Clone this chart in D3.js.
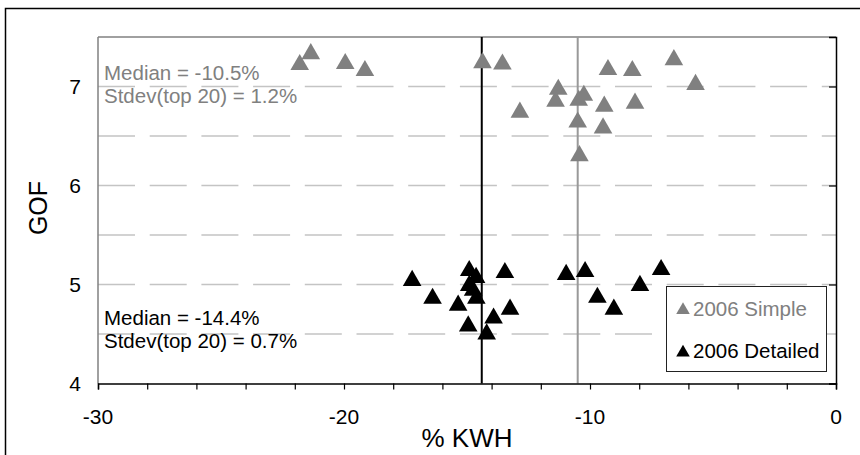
<!DOCTYPE html>
<html>
<head>
<meta charset="utf-8">
<script src="https://cdn.jsdelivr.net/npm/d3@7"></script>
<style>
  html, body { margin: 0; padding: 0; background: #fff; }
  svg { display: block; font-family: Arial, "Liberation Sans", sans-serif; }
</style>
</head>
<body>
<svg id="chart" width="860" height="455"></svg>
<script>
// 2006 Simple model runs: % KWH vs goodness of fit
const simpleKwh = [-21.8, -21.35, -19.95, -19.15, -14.37, -13.56, -9.27, -8.28, -6.59, -5.71,
                   -11.29, -11.4, -12.85, -10.46, -10.25, -9.42, -8.17, -10.5, -9.47, -10.43];
const simpleGof = [7.24, 7.35, 7.25, 7.18, 7.26, 7.245, 7.19, 7.18, 7.29, 7.04,
                   6.99, 6.87, 6.76, 6.88, 6.93, 6.82, 6.85, 6.66, 6.60, 6.32];

// 2006 Detailed model runs
const detailedKwh = [-17.23, -16.4, -14.91, -14.63, -14.91, -14.62, -13.46, -15.36, -13.25, -13.92,
                     -14.95, -14.2, -10.97, -10.2, -9.7, -9.03, -7.97, -7.11, -14.75];
const detailedGof = [5.06, 4.88, 5.16, 5.09, 5.01, 4.88, 5.14, 4.81, 4.77, 4.68,
                     4.60, 4.52, 5.12, 5.15, 4.89, 4.77, 5.01, 5.17, 4.96];

// Summary statistics shown on the chart
const simpleMedian = -10.5;
const simpleStdev = 1.2;
const detailedMedian = -14.4;
const detailedStdev = 0.7;

const xTicksMajor = [-30, -20, -10, 0];
const xTicksMinor = d3.range(-30, 0.001, 2);
const yTicks = [4, 5, 6, 7];
const yGrid = [4.5, 5, 5.5, 6, 6.5, 7];

const seriesNames = ["2006 Simple", "2006 Detailed"];
const seriesColors = ["#808080", "#000000"];

const svg = d3.select("#chart");
const plot = { left: 98, right: 836, top: 37, bottom: 383.5 };

const x = d3.scaleLinear().domain([-30, 0]).range([plot.left, plot.right]);
const y = d3.scaleLinear().domain([4, 7.5]).range([plot.bottom, plot.top]);

// outer frame
svg.append("rect")
  .attr("x", 5.5).attr("y", 8.5).attr("width", 870).attr("height", 470)
  .attr("fill", "none").attr("stroke", "#000").attr("stroke-width", 1.5);

// dashed horizontal gridlines
svg.append("g").selectAll("line").data(yGrid).join("line")
  .attr("x1", plot.left).attr("x2", plot.right)
  .attr("y1", d => y(d)).attr("y2", d => y(d))
  .attr("stroke", "#c4c4c4").attr("stroke-width", 1.5)
  .attr("stroke-dasharray", "37,14.7");

// plot-area border: top and left in gray
svg.append("line").attr("x1", plot.left).attr("x2", plot.right)
  .attr("y1", plot.top).attr("y2", plot.top)
  .attr("stroke", "#808080").attr("stroke-width", 1.5);
svg.append("line").attr("x1", plot.left).attr("x2", plot.left)
  .attr("y1", plot.top).attr("y2", plot.bottom)
  .attr("stroke", "#808080").attr("stroke-width", 1.5);

// median lines
svg.append("line")
  .attr("x1", x(simpleMedian)).attr("x2", x(simpleMedian))
  .attr("y1", plot.top).attr("y2", plot.bottom)
  .attr("stroke", "#999").attr("stroke-width", 2);
svg.append("line")
  .attr("x1", x(detailedMedian)).attr("x2", x(detailedMedian))
  .attr("y1", plot.top).attr("y2", plot.bottom)
  .attr("stroke", "#000").attr("stroke-width", 2);

// x axis at the bottom, ticks outward every 2
const xAxis = d3.axisBottom(x).tickValues(xTicksMinor).tickSize(6).tickFormat("");
const gx = svg.append("g").attr("transform", `translate(0,${plot.bottom})`).call(xAxis);
gx.select(".domain").attr("stroke", "#000").attr("stroke-width", 1.5);
gx.selectAll(".tick line").attr("stroke", "#000").attr("stroke-width", 1.2);

svg.append("g").selectAll("text").data(xTicksMajor).join("text")
  .attr("x", d => x(d)).attr("y", 424)
  .attr("text-anchor", "middle").attr("font-size", 21).attr("fill", "#000")
  .text(d => d);

// y axis crosses at x = 0 (right edge), ticks pointing inward, labels on the left
const yAxis = d3.axisLeft(y).tickValues(yTicks).tickSize(7).tickFormat("");
const gy = svg.append("g").attr("transform", `translate(${plot.right},0)`).call(yAxis);
gy.select(".domain").attr("stroke", "#000").attr("stroke-width", 1.5);
gy.selectAll(".tick line").attr("stroke", "#000").attr("stroke-width", 1.2);

svg.append("g").selectAll("text").data(yTicks).join("text")
  .attr("x", 81).attr("y", d => y(d) + 7.5)
  .attr("text-anchor", "end").attr("font-size", 21).attr("fill", "#000")
  .text(d => d);

// axis titles
svg.append("text").attr("x", (plot.left + plot.right) / 2).attr("y", 447)
  .attr("text-anchor", "middle").attr("font-size", 26).text("% KWH");
svg.append("text").attr("transform", "translate(47,208) rotate(-90)")
  .attr("text-anchor", "middle").attr("font-size", 25).text("GOF");

// triangle markers
const tri = d3.symbol().type(d3.symbolTriangle).size(150);
function drawSeries(xs, ys, color) {
  const pts = xs.map((v, i) => [v, ys[i]]);
  svg.append("g").selectAll("path").data(pts).join("path")
    .attr("d", tri)
    .attr("transform", d => `translate(${x(d[0])},${y(d[1]) + 2})`)
    .attr("fill", color);
}
drawSeries(simpleKwh, simpleGof, seriesColors[0]);
drawSeries(detailedKwh, detailedGof, seriesColors[1]);

// statistics annotations
const notes = [
  { lines: [`Median = ${simpleMedian}%`, `Stdev(top 20) = ${simpleStdev}%`], y0: 80, color: "#808080" },
  { lines: [`Median = ${detailedMedian}%`, `Stdev(top 20) = ${detailedStdev}%`], y0: 325, color: "#000" }
];
notes.forEach(n => {
  svg.append("g").selectAll("text").data(n.lines).join("text")
    .attr("x", 104).attr("y", (d, i) => n.y0 + i * 22.5)
    .attr("font-size", 20.5).attr("fill", n.color)
    .text(d => d);
});

// legend
const lg = svg.append("g");
lg.append("rect").attr("x", 666.5).attr("y", 286.5).attr("width", 160).attr("height", 85)
  .attr("fill", "#fff").attr("stroke", "#222").attr("stroke-width", 1);
const legendTri = d3.symbol().type(d3.symbolTriangle).size(80);
seriesNames.forEach((name, i) => {
  const cy = 308.5 + i * 42.5;
  lg.append("path").attr("d", legendTri)
    .attr("transform", `translate(683,${cy + 1.5})`).attr("fill", seriesColors[i]);
  lg.append("text").attr("x", 693).attr("y", cy + 7)
    .attr("font-size", 20.5).attr("fill", seriesColors[i]).text(name);
});
</script>
</body>
</html>
